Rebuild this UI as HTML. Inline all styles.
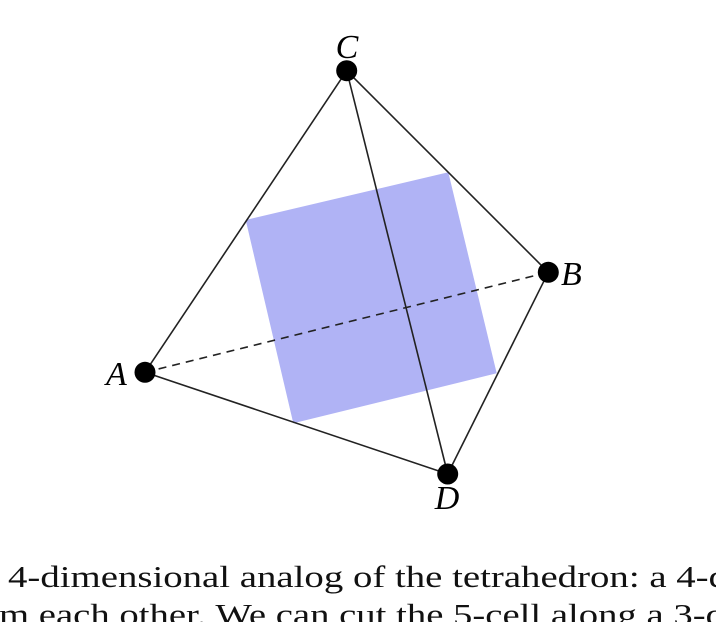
<!DOCTYPE html>
<html><head><meta charset="utf-8"><style>
html,body{margin:0;padding:0;background:#fff;width:716px;height:622px;overflow:hidden}
</style></head><body>
<svg width="716" height="622" viewBox="0 0 716 622" xmlns="http://www.w3.org/2000/svg">
<polygon points="245.7,220 448.3,172.3 496.7,373.3 293.3,423.3" fill="#b0b3f5"/>
<g stroke="#222" stroke-width="1.6" fill="none">
<line x1="145" y1="372.3" x2="346.7" y2="70.7"/>
<line x1="346.7" y1="70.7" x2="548.3" y2="272.3"/>
<line x1="346.7" y1="70.7" x2="447.7" y2="474"/>
<line x1="145" y1="372.3" x2="447.7" y2="474"/>
<line x1="548.3" y1="272.3" x2="447.7" y2="474"/>
<line x1="145" y1="372.3" x2="548.3" y2="272.3" stroke-dasharray="8,6"/>
</g>
<g fill="#000">
<circle cx="346.7" cy="70.7" r="10.5"/>
<circle cx="548.3" cy="272.3" r="10.5"/>
<circle cx="145" cy="372.3" r="10.5"/>
<circle cx="447.7" cy="474" r="10.5"/>
</g>
<g font-family="'Liberation Serif', serif" font-style="italic" font-size="34" fill="#000">
<text x="347" y="58" text-anchor="middle">C</text>
<text x="561" y="285">B</text>
<text x="106" y="385">A</text>
<text x="447" y="509" text-anchor="middle">D</text>
</g>
<g font-family="'Liberation Serif', serif" font-size="31" fill="#111">
<text x="8" y="587" textLength="720" lengthAdjust="spacingAndGlyphs">4-dimensional analog of the tetrahedron: a 4-d</text>
<text x="-1" y="625" textLength="726" lengthAdjust="spacingAndGlyphs">m each other. We can cut the 5-cell along a 3-d</text>
</g>
</svg>
</body></html>
